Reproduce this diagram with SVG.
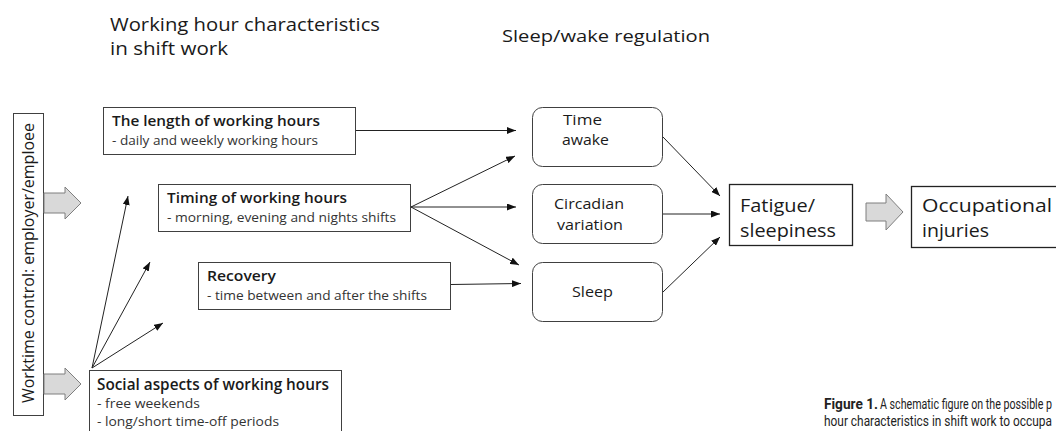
<svg xmlns="http://www.w3.org/2000/svg" width="1056" height="431" viewBox="0 0 1056 431">
<style>
text{font-family:"Open Sans","Noto Sans","DejaVu Sans",sans-serif;fill:#1a1a1a}
.hd{font-size:17.5px}
.h2{font-size:16px}
.t{font-size:14px;font-weight:600}
.s{font-size:12px;fill:#333}
.r{font-size:14px}
.big{font-size:18px}
.box{fill:#fff;stroke:#404040;stroke-width:1}
.rbox{fill:#fff;stroke:#404040;stroke-width:1}
.blk{fill:#d9d9d9;stroke:#7f7f7f;stroke-width:1}
.ln{stroke:#222;stroke-width:1;fill:none;marker-end:url(#ah)}
.cap{font-family:Roboto,"Liberation Sans",sans-serif;font-size:15px;fill:#222}
</style>
<defs>
<marker id="ah" markerWidth="9" markerHeight="7" refX="9" refY="3.5" orient="auto" markerUnits="userSpaceOnUse"><path d="M0,0 L9,3.5 L0,7 z" fill="#111"/></marker>
</defs>
<g id="headers">
<text class="hd" x="110" y="31" textLength="270" lengthAdjust="spacingAndGlyphs">Working hour characteristics</text>
<text class="hd" x="110" y="55" textLength="118" lengthAdjust="spacingAndGlyphs">in shift work</text>
<text class="h2" x="502" y="42" textLength="208" lengthAdjust="spacingAndGlyphs">Sleep/wake regulation</text>
</g>
<g id="worktime">
<rect class="box" x="13.5" y="113.5" width="30" height="302"/>
<text class="h2" transform="translate(34,263) rotate(-90)" text-anchor="middle" textLength="280" lengthAdjust="spacingAndGlyphs">Worktime control: employer/emploee</text>
</g>
<g id="block-arrows">
<path class="blk" d="M44,193 H65 V187 L81,203 L65,219 V213 H44 Z"/>
<path class="blk" d="M44,374 H65 V368 L81,384 L65,400 V394 H44 Z"/>
<path class="blk" d="M866,203 H886 V194 L903,212 L886,230 V221 H866 Z"/>
</g>
<g id="length">
<rect class="box" x="103.5" y="107.5" width="252" height="47"/>
<text class="t" x="112" y="126" textLength="208" lengthAdjust="spacingAndGlyphs">The length of working hours</text>
<text class="s" x="112" y="145" textLength="206" lengthAdjust="spacingAndGlyphs">-  daily and weekly working hours</text>
</g>
<g id="timing">
<rect class="box" x="158.5" y="184.5" width="252" height="47"/>
<text class="t" x="167" y="203" textLength="180" lengthAdjust="spacingAndGlyphs">Timing of working hours</text>
<text class="s" x="167" y="222" textLength="229" lengthAdjust="spacingAndGlyphs">-  morning, evening and nights shifts</text>
</g>
<g id="recovery">
<rect class="box" x="198.5" y="262.5" width="252" height="47"/>
<text class="t" x="207" y="281" textLength="69" lengthAdjust="spacingAndGlyphs">Recovery</text>
<text class="s" x="207" y="300" textLength="220" lengthAdjust="spacingAndGlyphs">-  time between and after the shifts</text>
</g>
<g id="social">
<rect class="box" x="89.5" y="370.5" width="252" height="70"/>
<text class="t" style="font-size:16px" x="97" y="390" textLength="232" lengthAdjust="spacingAndGlyphs">Social aspects of working hours</text>
<text class="s" x="97" y="408" textLength="103" lengthAdjust="spacingAndGlyphs">-  free weekends</text>
<text class="s" x="97" y="426" textLength="182" lengthAdjust="spacingAndGlyphs">-  long/short time-off periods</text>
</g>
<g id="time-awake">
<rect class="rbox" x="532.5" y="107.5" width="130" height="59" rx="10"/>
<text class="r" x="582.5" y="125" text-anchor="middle" textLength="39" lengthAdjust="spacingAndGlyphs">Time</text>
<text class="r" x="585.5" y="145" text-anchor="middle" textLength="47" lengthAdjust="spacingAndGlyphs">awake</text>
</g>
<g id="circadian">
<rect class="rbox" x="532.5" y="184.5" width="130" height="59" rx="10"/>
<text class="r" x="589" y="209" text-anchor="middle" textLength="70" lengthAdjust="spacingAndGlyphs">Circadian</text>
<text class="r" x="590" y="230" text-anchor="middle" textLength="66" lengthAdjust="spacingAndGlyphs">variation</text>
</g>
<g id="sleep">
<rect class="rbox" x="532.5" y="262.5" width="130" height="59" rx="10"/>
<text class="r" x="592.5" y="297" text-anchor="middle" textLength="41" lengthAdjust="spacingAndGlyphs">Sleep</text>
</g>
<g id="fatigue">
<rect class="box" x="729.5" y="184.5" width="123" height="61" style="stroke:#222;stroke-width:1.3"/>
<text class="big" x="740" y="212" textLength="75" lengthAdjust="spacingAndGlyphs">Fatigue/</text>
<text class="big" x="740" y="237" textLength="96" lengthAdjust="spacingAndGlyphs">sleepiness</text>
</g>
<g id="injuries">
<rect class="box" x="911.5" y="186.5" width="160" height="61" style="stroke:#222;stroke-width:1.3"/>
<text class="big" x="922" y="212" textLength="130" lengthAdjust="spacingAndGlyphs">Occupational</text>
<text class="big" x="922" y="237" textLength="67" lengthAdjust="spacingAndGlyphs">injuries</text>
</g>
<g id="connectors">
<line class="ln" x1="356" y1="130.5" x2="516" y2="130.5"/>
<line class="ln" x1="411" y1="207" x2="515" y2="156"/>
<line class="ln" x1="411" y1="207" x2="516" y2="207"/>
<line class="ln" x1="411" y1="207" x2="519" y2="265"/>
<line class="ln" x1="451" y1="284.5" x2="521" y2="283.5"/>
<line class="ln" x1="663" y1="137" x2="720" y2="196"/>
<line class="ln" x1="663" y1="214" x2="720" y2="214"/>
<line class="ln" x1="663" y1="292" x2="720" y2="237"/>
<line class="ln" x1="92" y1="368" x2="128" y2="196"/>
<line class="ln" x1="92" y1="368" x2="150" y2="262"/>
<line class="ln" x1="92" y1="368" x2="163" y2="323"/>
</g>
<g id="caption">
<text class="cap" x="824" y="409" font-weight="700" textLength="54" lengthAdjust="spacingAndGlyphs">Figure 1.</text>
<text class="cap" x="880" y="409" textLength="172" lengthAdjust="spacingAndGlyphs">A schematic figure on the possible p</text>
<text class="cap" x="824" y="426" textLength="228" lengthAdjust="spacingAndGlyphs">hour characteristics in shift work to occupa</text>
</g>
</svg>
